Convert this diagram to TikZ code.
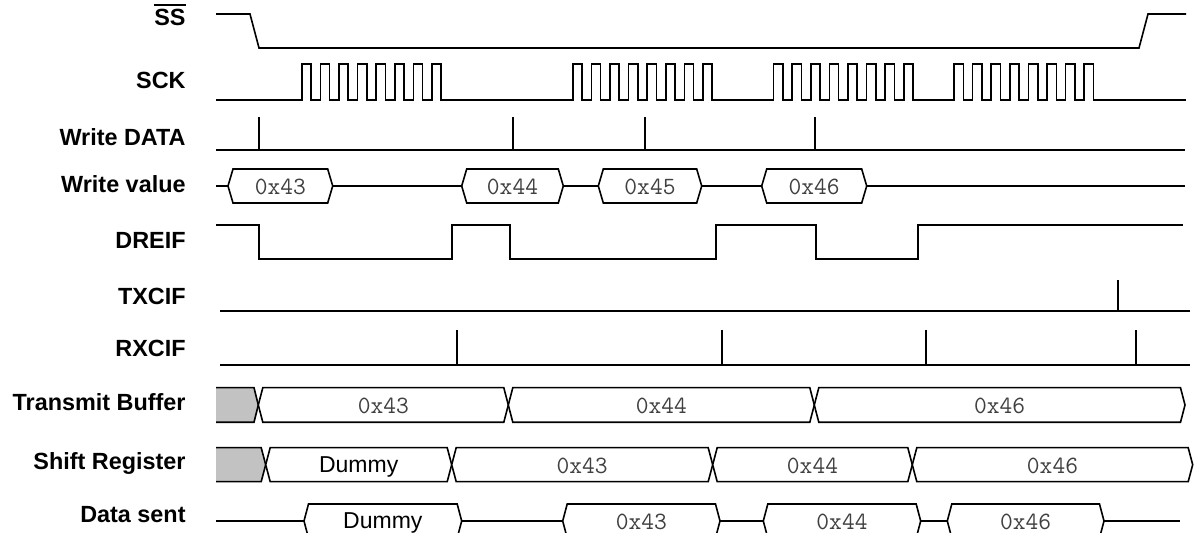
\documentclass[tikz,border=0pt]{standalone}
\usepackage{fontspec}
\setmainfont{Liberation Sans}
\definecolor{valgray}{gray}{0.25}
\definecolor{boxgray}{gray}{0.76}
% hexagonal bus segment: #1 left x, #2 right x, #3 centre y, #4 half height, #5 slope, #6 node name, #7 text style, #8 text baseline offset, #9 text
\newcommand{\busseg}[9]{%
  \draw[wave,fill=white] (#1,#3) -- ({#1+#5},{#3-#4}) -- ({#2-#5},{#3-#4}) -- (#2,#3) -- ({#2-#5},{#3+#4}) -- ({#1+#5},{#3+#4}) -- cycle;
  \node[#7] (#6) at ({(#1+#2)/2},{#3+#8}) {#9};}
\begin{document}
\begin{tikzpicture}[x=0.5pt,y=-0.5pt,
  wave/.style={line width=0.8pt, line join=miter},
  lbl/.style={anchor=mid east, inner sep=0pt, font=\fontsize{11.7}{14}\selectfont\bfseries},
  val/.style={anchor=base, inner sep=0pt, text=valgray, font=\fontsize{12.4}{14}\selectfont\ttfamily},
  dum/.style={anchor=base, inner sep=0pt, font=\fontsize{11.5}{13}\selectfont}]
\useasboundingbox (0,0) rectangle (1196,533);
\clip (0,0) rectangle (1196,533);

% labels
\node[lbl] (lss) at (186,20) {\vbox{\hrule height 1.2pt \kern 1.3pt \hbox{SS}}};
\node[lbl] (lsck) at (186,83) {SCK};
\node[lbl] (lwd) at (186,140) {Write DATA};
\node[lbl] (lwv) at (186,187) {Write value};
\node[lbl] (ldre) at (186,243) {DREIF};
\node[lbl] (ltxc) at (186,299) {TXCIF};
\node[lbl] (lrxc) at (186,351) {RXCIF};
\node[lbl] (ltb) at (186,405) {Transmit Buffer};
\node[lbl] (lsr) at (186,464) {Shift Register};
\node[lbl] (lds) at (186,517) {Data sent};

% SS
\draw[wave] (216,14) -- (250,14) -- (259,48) -- (1139,48) -- (1148,14) -- (1186,14);

% SCK
\draw[wave] (216,100)
  \foreach \s in {301.7,572.7,773.5,954}{
    \foreach \k in {0,...,7}{
      -- ({\s+18.6*\k},100) -- ({\s+18.6*\k},64) -- ({\s+18.6*\k+9.3},64) -- ({\s+18.6*\k+9.3},100)
    }
  } -- (1186,100);

% Write DATA
\draw[wave] (216,150) -- (1185,150);
\foreach \x in {259,513,645,815} \draw[wave] (\x,117) -- (\x,150);

% Write value
\draw[wave] (216,186) -- (1185,186);
\busseg{228}{332.7}{186}{17}{5}{wv1}{val}{9}{0x43}
\busseg{461.7}{563.3}{186}{17}{5}{wv2}{val}{9}{0x44}
\busseg{598.3}{701.7}{186}{17}{5}{wv3}{val}{9}{0x45}
\busseg{761.7}{866.7}{186}{17}{5}{wv4}{val}{9}{0x46}

% DREIF
\draw[wave] (216,225) -- (259,225) -- (259,259.3) -- (451.7,259.3) -- (451.7,225) -- (510,225) -- (510,259.3)
  -- (715.7,259.3) -- (715.7,225) -- (816,225) -- (816,259.3) -- (917.7,259.3) -- (917.7,225) -- (1183,225);

% TXCIF
\draw[wave] (220,311) -- (1190,311);
\draw[wave] (1118,280) -- (1118,311);

% RXCIF
\draw[wave] (220,365) -- (1190,365);
\foreach \x in {456.7,722,926,1136} \draw[wave] (\x,330) -- (\x,365);

% Transmit Buffer
\fill[boxgray] (216,387.7) -- (254,387.7) -- (258.3,405) -- (254,422.3) -- (216,422.3) -- cycle;
\draw[wave] (216,387.7) -- (254,387.7) -- (258.3,405) -- (254,422.3) -- (216,422.3);
\busseg{258.3}{508.3}{405}{17.3}{4.5}{tb1}{val}{9}{0x43}
\busseg{508.3}{814.3}{405}{17.3}{4.5}{tb2}{val}{9}{0x44}
\busseg{814.3}{1185}{405}{17.3}{4.5}{tb3}{val}{9}{0x46}

% Shift Register
\fill[boxgray] (216,447.7) -- (261.2,447.7) -- (265.7,464.7) -- (261.2,481.7) -- (216,481.7) -- cycle;
\draw[wave] (216,447.7) -- (261.2,447.7) -- (265.7,464.7) -- (261.2,481.7) -- (216,481.7);
\busseg{265.7}{451.7}{464.7}{17}{4.5}{sr1}{dum}{7.5}{Dummy}
\busseg{451.7}{712.7}{464.7}{17}{4.5}{sr2}{val}{9}{0x43}
\busseg{712.7}{912.3}{464.7}{17}{4.5}{sr3}{val}{9}{0x44}
\busseg{912.3}{1192.7}{464.7}{17}{4.5}{sr4}{val}{9}{0x46}

% Data sent
\draw[wave] (216,521) -- (1180,521);
\busseg{304}{461.7}{521}{17}{4.5}{ds1}{dum}{7.5}{Dummy}
\busseg{562.7}{720}{521}{17}{4.5}{ds2}{val}{9}{0x43}
\busseg{763.3}{920.7}{521}{17}{4.5}{ds3}{val}{9}{0x44}
\busseg{947.3}{1104}{521}{17}{4.5}{ds4}{val}{9}{0x46}
\end{tikzpicture}
\end{document}
